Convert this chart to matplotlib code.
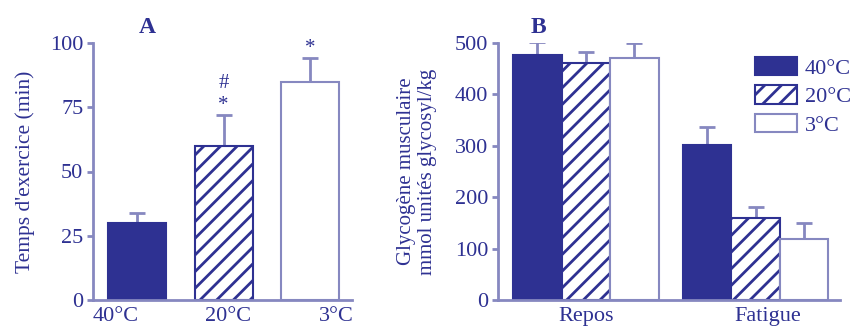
import matplotlib.pyplot as plt
from matplotlib.patches import Patch

# Panel A : temps d'exercice
temps_labels = ["40°C", "20°C", "3°C"]
temps_vals = [30, 60, 85]
temps_err_top = [34, 72, 94]
temps_marks = ["", "*\n#", "*"]

# Panel B : glycogène musculaire
groupes = ["Repos", "Fatigue"]
temperatures = ["40°C", "20°C", "3°C"]
glyco_vals = {"40°C": [477, 302], "20°C": [461, 160], "3°C": [471, 118]}
glyco_err_top = {"40°C": [502, 337], "20°C": [483, 181], "3°C": [500, 149]}

blue = "#2e3192"
axis_col = "#8688c0"

plt.rcParams["font.family"] = ["Liberation Serif", "DejaVu Serif"]
plt.rcParams["hatch.linewidth"] = 2.0
plt.rcParams["text.color"] = blue

styles = {
    "40°C": dict(color=blue, edgecolor=blue, hatch=None),
    "20°C": dict(color="white", edgecolor=blue, hatch="//"),
    "3°C": dict(color="white", edgecolor=axis_col, hatch=None),
}


def style_axes(ax):
    for s in ["top", "right"]:
        ax.spines[s].set_visible(False)
    for s in ["left", "bottom"]:
        ax.spines[s].set_color(axis_col)
        ax.spines[s].set_linewidth(2)
    ax.tick_params(axis="y", colors=axis_col, labelcolor=blue, labelsize=16,
                   length=4, width=2, direction="out", pad=3)
    ax.tick_params(axis="x", length=0, labelcolor=blue, labelsize=16, pad=5)


fig = plt.figure(figsize=(8.61, 3.30), dpi=100)

# ---------- A ----------
axA = fig.add_axes([93 / 861, 30 / 330, 259 / 861, 257 / 330])
for i, lab in enumerate(temps_labels):
    st = styles[lab]
    axA.bar(i, temps_vals[i], width=0.67, color=st["color"], edgecolor=st["edgecolor"],
            hatch=st["hatch"], linewidth=1.5, zorder=2)
    axA.errorbar(i, temps_vals[i], yerr=[[0], [temps_err_top[i] - temps_vals[i]]],
                 fmt="none", ecolor=axis_col, elinewidth=2, capsize=6, capthick=2, zorder=1)
    if temps_marks[i]:
        for k, m in enumerate(temps_marks[i].split("\n")):
            axA.text(i, temps_err_top[i] + k * 8.5, m, ha="center", va="bottom",
                     fontsize=15, color=blue)
axA.set_xlim(-0.506, 2.48)
axA.set_ylim(0, 100)
axA.set_yticks([0, 25, 50, 75, 100])
axA.set_xticks([-0.25, 1.05, 2.3])
axA.set_xticklabels(temps_labels)
axA.set_ylabel("Temps d'exercice (min)", fontsize=15.5, color=blue, labelpad=11)
style_axes(axA)
axA.set_title("A", fontsize=17, fontweight="bold", color=blue, x=0.21, pad=7)

# ---------- B ----------
axB = fig.add_axes([498 / 861, 30 / 330, 342 / 861, 257 / 330])
centres = [0, 3.5]
offsets = [-1, 0, 1]
for j, t in enumerate(temperatures):
    st = styles[t]
    pos = [c + offsets[j] for c in centres]
    axB.bar(pos, glyco_vals[t], width=1.0, color=st["color"], edgecolor=st["edgecolor"],
            hatch=st["hatch"], linewidth=1.5, zorder=2)
    err = [e - v for e, v in zip(glyco_err_top[t], glyco_vals[t])]
    axB.errorbar(pos, glyco_vals[t], yerr=[[0] * len(err), err], fmt="none",
                 ecolor=axis_col, elinewidth=2, capsize=6, capthick=2, zorder=1)
axB.set_xlim(-1.81, 5.24)
axB.set_ylim(0, 500)
axB.set_yticks([0, 100, 200, 300, 400, 500])
axB.set_xticks([0, 3.75])
axB.set_xticklabels(groupes)
axB.set_ylabel("Glycogène musculaire\nmmol unités glycosyl/kg", fontsize=15,
               color=blue, labelpad=13, linespacing=1.1)
style_axes(axB)
axB.set_title("B", fontsize=17, fontweight="bold", color=blue, x=0.117, pad=7)

handles = [Patch(facecolor=styles[t]["color"], edgecolor=styles[t]["edgecolor"],
                 hatch=styles[t]["hatch"], linewidth=1.5) for t in temperatures]
leg = axB.legend(handles, temperatures, loc="upper left", bbox_to_anchor=(0.751, 0.946),
                 frameon=False, fontsize=16, handlelength=1.9, handleheight=0.9,
                 handletextpad=0.35, labelspacing=0.3, borderaxespad=0, borderpad=0)
for txt in leg.get_texts():
    txt.set_color(blue)

fig.savefig("out.png", dpi=100)
